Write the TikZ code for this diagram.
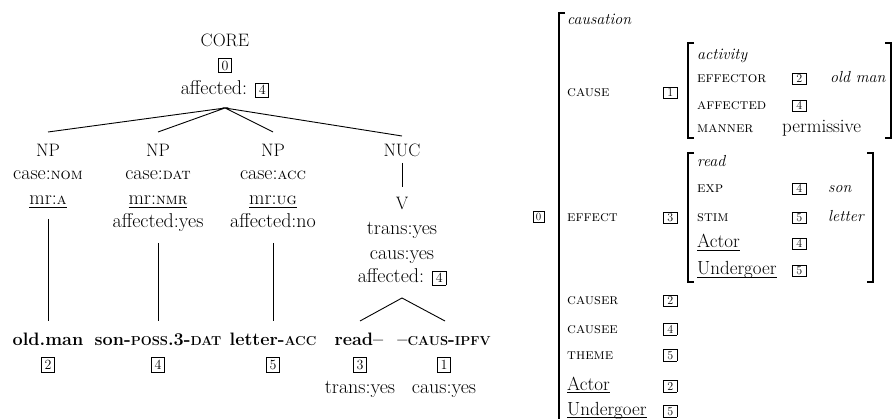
\documentclass[tikz,border=0pt]{standalone}
\newcommand\tbx[1]{{\setlength\fboxsep{0pt}\setlength\fboxrule{0.7pt}\fbox{\makebox[12.6pt]{\rule[-2pt]{0pt}{13.6pt}\fontsize{14}{14}\selectfont #1}}}}
\newcommand\abx[1]{{\setlength\fboxsep{0pt}\setlength\fboxrule{0.7pt}\fbox{\makebox[12.6pt]{\rule[-1.5pt]{0pt}{11.2pt}\fontsize{12}{12}\selectfont #1}}}}
\newcommand\uln[1]{\setbox0\hbox{#1}\rlap{\rule[-2.6pt]{\wd0}{0.7pt}}\box0}
\newcommand\bsc[1]{{\fontsize{13}{13}\selectfont\bfseries\uppercase{#1}}}
\newcommand\tsc[1]{{\fontsize{16}{16}\selectfont\textsc{#1}}}
\newcommand\asc[1]{{\fontsize{15}{15}\selectfont\textsc{#1}}}
\tikzset{
  tw/.style={anchor=base, inner sep=0pt, font=\fontsize{20}{24}\selectfont},
  tc/.style={anchor=base, inner sep=0pt, font=\fontsize{18}{22}\selectfont},
  bw/.style={anchor=base, inner sep=0pt, font=\fontsize{18}{22}\selectfont\bfseries},
  aw/.style={anchor=base west, inner sep=0pt, font=\fontsize{19}{22}\selectfont},
  ai/.style={anchor=base west, inner sep=0pt, font=\fontsize{16}{20}\selectfont\itshape},
  edge/.style={line width=0.9pt},
  brk/.style={line width=1.2pt},
}
\begin{document}
\begin{tikzpicture}[x=1pt,y=-1pt]
\useasboundingbox (0,0) rectangle (893,419);
% ---------- tree ----------
\node[tc] (core) at (225,47) {CORE};
\node[tw] (core0) at (225,70.5) {\tbx{0}};
\node[tw] (coreaff) at (225,95) {affected: \tbx{4}};
\coordinate (apex) at (225,108);

\node[tc] (np1) at (48,157) {NP};
\node[tw] (np1c) at (48,180) {case:\tsc{nom}};
\node[tw] (np1m) at (48,205) {\uln{mr:\tsc{a}}};

\node[tc] (np2) at (158,157) {NP};
\node[tw] (np2c) at (158,180) {case:\tsc{dat}};
\node[tw] (np2m) at (158,205) {\uln{mr:\tsc{nmr}}};
\node[tw] (np2a) at (158,228) {affected:yes};

\node[tc] (np3) at (273,157) {NP};
\node[tw] (np3c) at (273,180) {case:\tsc{acc}};
\node[tw] (np3m) at (273,205) {\uln{mr:\tsc{ug}}};
\node[tw] (np3a) at (273,228) {affected:no};

\node[tc] (nuc) at (402,157) {NUC};
\node[tc] (v) at (402,210) {V};
\node[tw] (vt) at (402,235) {trans:yes};
\node[tw] (vc) at (402,260) {caus:yes};
\node[tw] (va) at (402,283) {affected: \tbx{4}};
\coordinate (vapex) at (402,298);

\node[bw] (w1) at (48,345) {old.man};
\node[bw] (w2) at (158,345) {son-\bsc{poss}.3-\bsc{dat}};
\node[bw] (w3) at (273,345) {letter-\bsc{acc}};
\node[bw] (w4) at (359,345) {read--};
\node[bw] (w5) at (444,345) {--\bsc{caus}-\bsc{ipfv}};

\node[tw] (b1) at (48,369.5) {\tbx{2}};
\node[tw] (b2) at (158,369.5) {\tbx{4}};
\node[tw] (b3) at (273,369.5) {\tbx{5}};
\node[tw] (b4) at (360,369.5) {\tbx{3}};
\node[tw] (b5) at (444,369.5) {\tbx{1}};
\node[tw] (t4) at (360,393) {trans:yes};
\node[tw] (t5) at (444,393) {caus:yes};

\coordinate (e1) at (48,132);
\coordinate (e2) at (158,132);
\coordinate (e3) at (273,132);
\coordinate (e4) at (402,136);
\draw[edge] (e1) -- (apex) -- (e2);
\draw[edge] (e3) -- (apex) -- (e4);
\coordinate (l1a) at (48,219);  \coordinate (l1b) at (48,321);
\coordinate (l2a) at (158,243); \coordinate (l2b) at (158,321);
\coordinate (l3a) at (273,243); \coordinate (l3b) at (273,321);
\coordinate (l4a) at (402,163); \coordinate (l4b) at (402,187);
\coordinate (t1) at (360,321);  \coordinate (t2) at (445,321);
\draw[edge] (l1a) -- (l1b);
\draw[edge] (l2a) -- (l2b);
\draw[edge] (l3a) -- (l3b);
\draw[edge] (l4a) -- (l4b);
\draw[edge] (t1) -- (vapex) -- (t2);

% ---------- AVM ----------
\node[draw, line width=0.7pt, minimum width=11pt, minimum height=10.5pt, inner sep=0pt, font=\fontsize{11}{11}\selectfont] (b0) at (538.5,217) {0};
\draw[brk] (565,13) -- (559,13) -- (559,430);
\node[ai] (causation) at (567,25) {causation};
\node[aw] (cause) at (567,97) {\asc{cause}};
\node[aw] (cause1) at (663,97) {\abx{1}};
\draw[brk] (694,43) -- (688,43) -- (688,138) -- (694,138);
\draw[brk] (885,43) -- (891,43) -- (891,138) -- (885,138);
\node[ai] (act) at (697,60) {activity};
\node[aw] (eff) at (697,83) {\asc{effector}};
\node[aw] (eff2) at (792,83) {\abx{2}};
\node[ai] (om) at (830,83) {old man};
\node[aw] (aff) at (697,110) {\asc{affected}};
\node[aw] (aff4) at (792,110) {\abx{4}};
\node[aw] (man) at (697,133) {\asc{manner}};
\node[aw] (perm) at (782,133) {permissive};

\draw[brk] (694,153) -- (688,153) -- (688,282) -- (694,282);
\draw[brk] (867,153) -- (873,153) -- (873,282) -- (867,282);
\node[ai] (read) at (697,167) {read};
\node[aw] (exp) at (697,193) {\asc{exp}};
\node[aw] (exp4) at (792,193) {\abx{4}};
\node[ai] (son) at (828,193) {son};
\node[aw] (stim) at (697,222) {\asc{stim}};
\node[aw] (stim5) at (792,222) {\abx{5}};
\node[ai] (let) at (828,222) {letter};
\node[aw] (iact) at (697,248) {\uln{Actor}};
\node[aw] (iact4) at (792,248) {\abx{4}};
\node[aw] (iund) at (697,275) {\uln{Undergoer}};
\node[aw] (iund5) at (792,275) {\abx{5}};

\node[aw] (effect) at (567,222) {\asc{effect}};
\node[aw] (effect3) at (663,222) {\abx{3}};
\node[aw] (causer) at (567,305) {\asc{causer}};
\node[aw] (causer2) at (663,305) {\abx{2}};
\node[aw] (causee) at (567,333) {\asc{causee}};
\node[aw] (causee4) at (663,333) {\abx{4}};
\node[aw] (theme) at (567,359) {\asc{theme}};
\node[aw] (theme5) at (663,359) {\abx{5}};
\node[aw] (oact) at (567,390) {\uln{Actor}};
\node[aw] (oact2) at (663,390) {\abx{2}};
\node[aw] (ound) at (567,415) {\uln{Undergoer}};
\node[aw] (ound5) at (663,415) {\abx{5}};
\end{tikzpicture}
\end{document}
